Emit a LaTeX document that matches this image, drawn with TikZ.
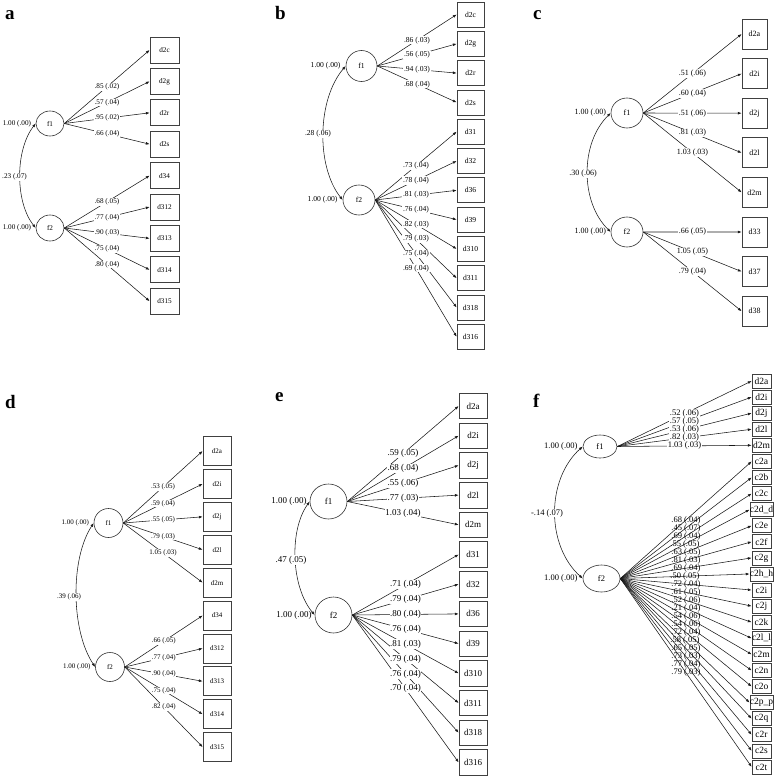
\documentclass[tikz,border=0pt]{standalone}
\usepackage{fontspec}
\setmainfont{Liberation Serif}
\usetikzlibrary{shapes.geometric,arrows.meta}
\tikzset{
  lat/.style={ellipse, draw=black!80, line width=0.6pt, inner sep=0pt},
  obs/.style={rectangle, draw=black!75, line width=0.7pt, inner sep=0pt},
  edge/.style={draw=black!90, line width=0.55pt, -{Latex[length=3.8pt,width=2.8pt]}},
  cov/.style={draw=black!90, line width=0.55pt, {Latex[length=3.8pt,width=2.8pt]}-{Latex[length=3.8pt,width=2.8pt]}},
  lbl/.style={fill=white, inner sep=0.6pt},
  plbl/.style={inner sep=0.4pt},
  varlbl/.style={anchor=east, inner sep=0pt},
  letter/.style={anchor=base west, inner sep=0pt, font=\fontsize{19}{20}\selectfont\bfseries},
}
\begin{document}
\begin{tikzpicture}[x=1pt,y=-1pt]
\useasboundingbox (0,0) rectangle (778,776);

% panel letters
\node[letter] (La) at (5,20) {a};
\node[letter] (Lb) at (275,20) {b};
\node[letter] (Lc) at (533,20) {c};
\node[letter] (Ld) at (5,408) {d};
\node[letter] (Le) at (275,401) {e};
\node[letter] (Lf) at (533,407) {f};

% ---------------- panel a
\begin{scope}[font=\fontsize{7.2}{8}\selectfont]
\node[lat, minimum width=28pt, minimum height=25pt] (a-f1) at (50,123.5) {f1};
\node[lat, minimum width=28pt, minimum height=26pt] (a-f2) at (50,228) {f2};
\foreach \n [count=\i from 0] in {d2c,d2g,d2r,d2s,d34,d312,d313,d314,d315}
  \node[obs, minimum width=29pt, minimum height=26pt] (a-\n) at (164.5,{50+31.4*\i}) {\n};
\def\aE{1/d2c/{.85 (.02)},1/d2g/{.57 (.04)},1/d2r/{.95 (.02)},1/d2s/{.66 (.04)},2/d34/{.68 (.05)},2/d312/{.77 (.04)},2/d313/{.90 (.03)},2/d314/{.75 (.04)},2/d315/{.80 (.04)}}
\foreach \f/\n/\l in \aE \draw[edge] (a-f\f.east) -- (a-\n.west);
\foreach \f/\n/\l in \aE \path (a-f\f.east) -- (a-\n.west) node[lbl,midway] {\l};
\draw[cov] (a-f1.west) .. controls (15,150) and (15,202) .. (a-f2.west);
\node[lbl] (a-c) at (14.5,177) {.23 (.07)};
\node[varlbl] (a-v1) at ([xshift=-4.5pt]a-f1.west) {1.00 (.00)};
\node[varlbl] (a-v2) at ([xshift=-4.5pt]a-f2.west) {1.00 (.00)};
\end{scope}

% ---------------- panel b
\begin{scope}[font=\fontsize{7.6}{8.5}\selectfont]
\node[lat, minimum width=31pt, minimum height=31pt] (b-f1) at (361.5,66) {f1};
\node[lat, minimum width=32pt, minimum height=30pt] (b-f2) at (359,200) {f2};
\foreach \n [count=\i from 0] in {d2c,d2g,d2r,d2s,d31,d32,d36,d39,d310,d311,d318,d316}
  \node[obs, minimum width=27pt, minimum height=25pt] (b-\n) at (470.5,{14.5+29.3*\i}) {\n};
\def\bE{1/d2c/{.86 (.03)},1/d2g/{.56 (.05)},1/d2r/{.94 (.03)},1/d2s/{.68 (.04)},2/d31/{.73 (.04)},2/d32/{.78 (.04)},2/d36/{.81 (.03)},2/d39/{.76 (.04)},2/d310/{.82 (.03)},2/d311/{.79 (.03)},2/d318/{.75 (.04)},2/d316/{.69 (.04)}}
\foreach \f/\n/\l in \bE \draw[edge] (b-f\f.east) -- (b-\n.west);
\foreach \f/\n/\l in \bE \path (b-f\f.east) -- (b-\n.west) node[lbl,midway] {\l};
\draw[cov] (b-f1.west) .. controls (317,99.5) and (316,166.5) .. (b-f2.west);
\node[lbl] (b-c) at (318,134) {.28 (.06)};
\node[varlbl] (b-v1) at ([xshift=-5pt]b-f1.west) {1.00 (.00)};
\node[varlbl] (b-v2) at ([xshift=-5pt]b-f2.west) {1.00 (.00)};
\end{scope}

% ---------------- panel c
\begin{scope}[font=\fontsize{8}{9}\selectfont]
\node[lat, minimum width=32pt, minimum height=30pt] (c-f1) at (627,113) {f1};
\node[lat, minimum width=32pt, minimum height=30pt] (c-f2) at (627,232) {f2};
\foreach \n [count=\i from 0] in {d2a,d2i,d2j,d2l,d2m,d33,d37,d38}
  \node[obs, minimum width=25pt, minimum height=30pt] (c-\n) at (754.5,{34+39.6*\i}) {\n};
\def\cE{1/d2a/{.51 (.06)},1/d2i/{.60 (.04)},1/d2j/{.51 (.06)},1/d2l/{.81 (.03)},1/d2m/{1.03 (.03)},2/d33/{.66 (.05)},2/d37/{1.05 (.05)},2/d38/{.79 (.04)}}
\foreach \f/\n/\l in \cE \draw[edge] (c-f\f.east) -- (c-\n.west);
\foreach \f/\n/\l in \cE \path (c-f\f.east) -- (c-\n.west) node[lbl,midway] {\l};
\draw[cov] (c-f1.west) .. controls (580,143) and (580,202) .. (c-f2.west);
\node[lbl] (c-c) at (583,174) {.30 (.06)};
\node[varlbl] (c-v1) at ([xshift=-4.5pt]c-f1.west) {1.00 (.00)};
\node[varlbl] (c-v2) at ([xshift=-4.5pt]c-f2.west) {1.00 (.00)};
\end{scope}

% ---------------- panel d
\begin{scope}[font=\fontsize{7}{8}\selectfont]
\node[lat, minimum width=29pt, minimum height=29pt] (d-f1) at (108.5,523) {f1};
\node[lat, minimum width=29pt, minimum height=29pt] (d-f2) at (110,667) {f2};
\foreach \n [count=\i from 0] in {d2a,d2i,d2j,d2l,d2m,d34,d312,d313,d314,d315}
  \node[obs, minimum width=28pt, minimum height=29pt] (d-\n) at (217,{451+32.9*\i}) {\n};
\def\dE{1/d2a/{.53 (.05)},1/d2i/{.59 (.04)},1/d2j/{.55 (.05)},1/d2l/{.79 (.03)},1/d2m/{1.05 (.03)},2/d34/{.66 (.05)},2/d312/{.77 (.04)},2/d313/{.90 (.04)},2/d314/{.75 (.04)},2/d315/{.82 (.04)}}
\foreach \f/\n/\l in \dE \draw[edge] (d-f\f.east) -- (d-\n.west);
\foreach \f/\n/\l in \dE \path (d-f\f.east) -- (d-\n.west) node[lbl,midway] {\l};
\draw[cov] (d-f1.west) .. controls (70,559) and (71,631) .. (d-f2.west);
\node[lbl] (d-c) at (69,597) {.39 (.06)};
\node[varlbl] (d-v1) at ([xshift=-4.5pt]d-f1.west) {1.00 (.00)};
\node[varlbl] (d-v2) at ([xshift=-4.5pt]d-f2.west) {1.00 (.00)};
\end{scope}

% ---------------- panel e
\begin{scope}[font=\fontsize{9}{10}\selectfont]
\node[lat, minimum width=37pt, minimum height=35pt] (e-f1) at (328.5,501.5) {f1};
\node[lat, minimum width=37pt, minimum height=36pt] (e-f2) at (333.5,615) {f2};
\foreach \n [count=\i from 0] in {d2a,d2i,d2j,d2l,d2m,d31,d32,d36,d39,d310,d311,d318,d316}
  \node[obs, minimum width=28pt, minimum height=25.5pt] (e-\n) at (473,{406+29.7*\i}) {\n};
\def\eE{1/d2a/{.59 (.05)},1/d2i/{.68 (.04)},1/d2j/{.55 (.06)},1/d2l/{.77 (.03)},1/d2m/{1.03 (.04)},2/d31/{.71 (.04)},2/d32/{.79 (.04)},2/d36/{.80 (.04)},2/d39/{.76 (.04)},2/d310/{.81 (.03)},2/d311/{.79 (.04)},2/d318/{.76 (.04)},2/d316/{.70 (.04)}}
\foreach \f/\n/\l in \eE \draw[edge] (e-f\f.east) -- (e-\n.west);
\foreach \f/\n/\l in \eE \path (e-f\f.east) -- (e-\n.west) node[lbl,midway] {\l};
\draw[cov] (e-f1.west) .. controls (289,530) and (291,587) .. (e-f2.west);
\node[lbl] (e-c) at (291,560) {.47 (.05)};
\node[varlbl] (e-v1) at ([xshift=-3pt]e-f1.west) {1.00 (.00)};
\node[varlbl] (e-v2) at ([xshift=-3pt]e-f2.west) {1.00 (.00)};
\end{scope}

% ---------------- panel f
\begin{scope}[font=\fontsize{8.5}{9.5}\selectfont]
\node[lat, minimum width=34pt, minimum height=23pt] (f-f1) at (600,446.5) {f1};
\node[lat, minimum width=37pt, minimum height=27pt] (f-f2) at (601.5,578.5) {f2};
\foreach \t [count=\i] in {d2a,d2i,d2j,d2l,d2m,c2a,c2b,c2c,c2d\_d,c2e,c2f,c2g,c2h\_h,c2i,c2j,c2k,c2l\_l,c2m,c2n,c2o,c2p\_p,c2q,c2r,c2s,c2t}
  \node[obs, minimum width=19pt, minimum height=14pt, font=\fontsize{9.5}{10}\selectfont] (f-b\i) at (761.5,{381+16.08*(\i-1)}) {\t};
\def\fEa{1/1/{.52 (.06)},1/2/{.57 (.05)},1/3/{.53 (.06)},1/4/{.82 (.03)},1/5/{1.03 (.03)}}
\def\fEb{2/6/{.68 (.04)},2/7/{.45 (.07)},2/8/{.69 (.04)},2/9/{.55 (.05)},2/10/{.63 (.05)},2/11/{.81 (.03)},2/12/{.69 (.04)},2/13/{.50 (.05)},2/14/{.72 (.04)},2/15/{.61 (.05)},2/16/{.52 (.06)},2/17/{.21 (.04)},2/18/{.54 (.06)},2/19/{.54 (.06)},2/20/{.72 (.04)},2/21/{.58 (.05)},2/22/{.65 (.05)},2/23/{.73 (.03)},2/24/{.77 (.04)},2/25/{.79 (.03)}}
\foreach \f/\n/\l in \fEa \draw[edge] (f-f\f.east) -- (f-b\n.west);
\foreach \f/\n/\l in \fEb \draw[edge] (f-f\f.east) -- (f-b\n.west);
\foreach \f/\n/\l in \fEa \path (f-f\f.east) -- (f-b\n.west) node[lbl,midway] {\l};
\foreach \f/\n/\l in \fEb \path (f-f\f.east) -- (f-b\n.west) node[plbl,midway] {\l};
\draw[cov] (f-f1.west) .. controls (546,479.5) and (546,545.5) .. (f-f2.west);
\node[lbl] (f-c) at (547,513) {-.14 (.07)};
\node[varlbl] (f-v1) at ([xshift=-5pt]f-f1.west) {1.00 (.00)};
\node[varlbl] (f-v2) at ([xshift=-5pt]f-f2.west) {1.00 (.00)};
\end{scope}
\end{tikzpicture}
\end{document}
